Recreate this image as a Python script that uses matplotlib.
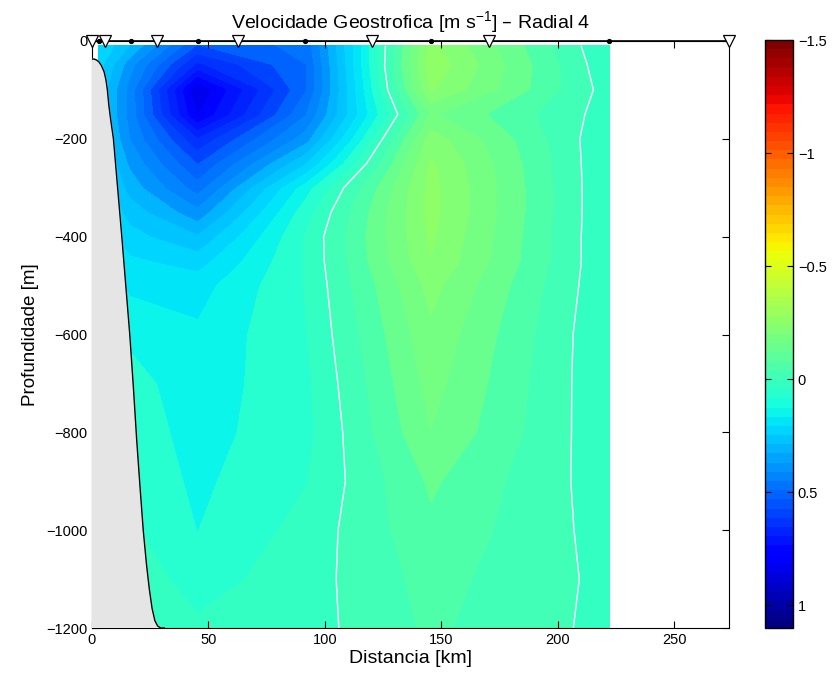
import numpy as np
import matplotlib
matplotlib.use("Agg")
import matplotlib.pyplot as plt
from matplotlib.colors import Normalize
from matplotlib.cm import ScalarMappable

plt.rcParams['font.family'] = ['Liberation Sans', 'DejaVu Sans']
plt.rcParams['mathtext.default'] = 'regular'

# CTD stations along the section (km from the coast)
station_km = np.array([0.0, 5.6, 27.9, 62.7, 120.3, 170.5, 273.5])
# geostrophic velocity is computed between station pairs
pair_km = 0.5 * (station_km[:-1] + station_km[1:])

depth_m = np.array([10, 50, 100, 150, 200, 250, 300, 350, 400, 450, 500,
                    600, 700, 800, 900, 1000, 1100, 1200])

# velocity profiles (m/s) for each station pair
v_pair1 = [0.20, 0.22, 0.25, 0.25, 0.24, 0.22, 0.20, 0.18, 0.16, 0.14, 0.12,
           0.10, 0.08, 0.07, 0.06, 0.04, 0.02, 0.00]
v_pair2 = [0.30, 0.38, 0.42, 0.42, 0.40, 0.36, 0.32, 0.27, 0.23, 0.19, 0.16,
           0.11, 0.08, 0.07, 0.06, 0.04, 0.02, 0.00]
v_pair3 = [0.55, 0.66, 0.84, 0.80, 0.64, 0.55, 0.47, 0.38, 0.29, 0.22, 0.17,
           0.14, 0.13, 0.12, 0.11, 0.10, 0.07, 0.04]
v_pair4 = [0.48, 0.50, 0.50, 0.45, 0.37, 0.25, 0.12, 0.07, 0.045, 0.045, 0.047,
           0.052, 0.06, 0.064, 0.052, 0.032, 0.023, 0.022]
v_pair5 = [-0.27, -0.29, -0.26, -0.16, -0.23, -0.26, -0.27, -0.27, -0.26, -0.25, -0.22,
           -0.19, -0.17, -0.15, -0.11, -0.09, -0.07, -0.06]
v_pair6 = [0.05, 0.04, 0.025, 0.025, 0.045, 0.048, 0.048, 0.048, 0.048, 0.046, 0.045,
           0.048, 0.045, 0.04, 0.03, 0.022, 0.014, 0.015]

# bottom topography along the section
bottom_km = [0.0, 1.0, 2.0, 3.0, 4.0, 5.2, 6.0, 6.6, 7.2, 8.0, 9.2, 11.0, 12.8,
             14.6, 16.3, 17.8, 19.2, 20.6, 22.0, 23.4, 24.6, 25.8, 27.0, 28.2,
             29.5, 31.0]
bottom_m = [37, 37, 39, 43, 50, 63, 80, 100, 130, 160, 200, 300, 400,
            505, 605, 710, 816, 910, 1000, 1070, 1120, 1160, 1185, 1196,
            1200, 1200]

cbar_ticks = [-1.5, -1, -0.5, 0, 0.5, 1]

V = np.column_stack([v_pair1, v_pair2, v_pair3, v_pair4, v_pair5, v_pair6])
X, Z = np.meshgrid(pair_km, -depth_m)

vmin, vmax = -1.5, 1.1
norm = Normalize(vmin, vmax)
cmap = plt.get_cmap('jet_r', 64)
levels = np.round(np.arange(-30, 23) * 0.05, 2)

fig = plt.figure(figsize=(8.36, 6.8), dpi=100)
W, H = 836, 680
ax = fig.add_axes([92 / W, 1 - 628 / H, (729 - 92) / W, (628 - 41) / H])
cax = fig.add_axes([765 / W, 1 - 628 / H, 28 / W, (628 - 40) / H])

ax.contourf(X, Z, V, levels=levels, cmap=cmap, norm=norm)
ax.contour(X, Z, V, levels=[0], colors='white', linewidths=1.0)

bx = np.array(bottom_km)
bz = -np.array(bottom_m)
ax.fill(np.r_[0, bx, bx[-1]], np.r_[-1200, bz, -1200], color='#e5e5e5', zorder=3)
ax.plot(bx, bz, color='k', lw=1.0, zorder=4)

ax.plot([station_km[0], station_km[-1]], [0, 0], color='k', lw=1.2,
        clip_on=False, zorder=5)
ax.plot(pair_km, np.zeros_like(pair_km), 'o', ms=2.8, color='k',
        clip_on=False, zorder=6)
ax.plot(station_km, np.zeros_like(station_km), 'v', ms=8, mfc='white',
        mec='k', mew=0.9, clip_on=False, zorder=7)

ax.set_xlim(0, station_km[-1])
ax.set_ylim(-1200, 0)
ax.set_xticks([0, 50, 100, 150, 200, 250])
ax.set_yticks(np.arange(-1200, 1, 200))
ax.tick_params(direction='in', top=True, right=True, length=5, labelsize=10.5)
ax.set_xlabel('Distancia [km]', fontsize=14, labelpad=2)
ax.set_ylabel('Profundidade [m]', fontsize=13.5, labelpad=5)
ax.set_title('Velocidade Geostrofica [m s$^{-1}$] – Radial 4', fontsize=14, pad=9)

cb = fig.colorbar(ScalarMappable(norm=norm, cmap=cmap), cax=cax)
cax.set_ylim(vmax, vmin)
cb.set_ticks(cbar_ticks)
cb.set_ticklabels(['−1.5', '−1', '−0.5', '0', '0.5', '1'])
cax.tick_params(direction='in', left=True, right=True, length=4, labelsize=10.5)
cb.outline.set_linewidth(1.0)

fig.savefig('out.png', dpi=100)
